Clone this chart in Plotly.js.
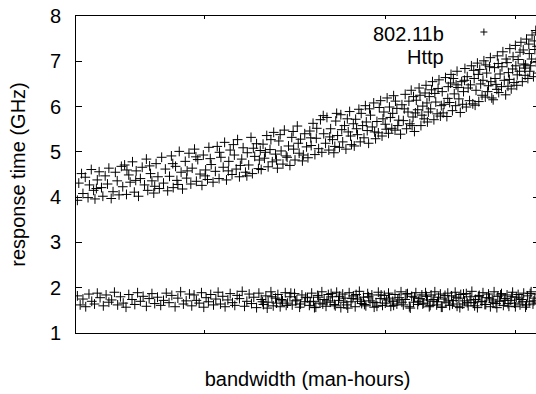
<!DOCTYPE html>
<html>
<head>
<meta charset="utf-8">
<script src="https://cdn.plot.ly/plotly-3.0.1.min.js"></script>
<style>html,body{margin:0;padding:0;overflow:hidden;background:#fff}</style>
</head>
<body>
<div id="chart" style="width:540px;height:394px"></div>
<script>
// Series names
var seriesNames = ["802.11b", "Http"];

// 802.11b (upper band) points, as [x, y]
var pts802 = [
[0.3,3.93],[0.6,4.31],[1.2,4.52],[1.5,4.08],[2.0,4.44],[2.6,3.99],[2.9,4.27],[3.3,4.61],[3.8,4.15],[4.1,3.96],[4.6,4.38],[5.0,4.56],[5.5,4.21],[5.8,4.02],[6.3,4.47],[6.8,4.29],[7.1,4.64],[7.6,3.97],[8.0,4.12],[8.5,4.55],[8.9,4.36],[9.3,4.05],[9.8,4.68],[4.4,4.19],
[10.1,4.23],[10.5,4.71],[10.9,4.06],[11.4,4.49],[11.7,4.33],[12.2,4.78],[12.6,4.11],[13.0,4.58],[13.5,4.02],[13.9,4.41],[14.3,4.66],[14.8,4.27],[15.2,4.84],[15.5,4.15],[16.1,4.52],[16.4,4.36],[16.8,4.09],[17.3,4.74],[17.7,4.45],[18.0,4.19],[18.5,4.88],[18.9,4.31],[19.3,4.62],[19.8,4.14],[12.9,4.37],[15.9,4.69],[17.0,4.24],[11.0,4.60],
[20.2,4.46],[20.6,4.91],[21.0,4.21],[21.5,4.68],[21.8,4.37],[22.3,5.01],[22.7,4.55],[23.0,4.18],[23.6,4.79],[23.9,4.42],[24.4,4.97],[24.8,4.29],[25.1,4.64],[25.6,5.06],[26.0,4.35],[26.3,4.83],[26.8,4.51],[27.2,4.26],[27.5,4.93],[28.0,4.60],[28.4,4.39],[28.7,5.10],[29.2,4.72],[29.6,4.33],[20.9,4.74],[22.0,4.28],[24.0,4.58],[25.9,4.89],[27.9,4.47],[29.0,4.85],
[30.1,4.57],[30.5,5.12],[30.9,4.41],[31.3,4.88],[31.8,4.66],[32.1,5.21],[32.5,4.38],[33.0,4.79],[33.3,5.04],[33.7,4.50],[34.2,4.93],[34.6,4.62],[34.9,5.27],[35.3,4.45],[35.8,4.84],[36.1,5.09],[36.6,4.55],[37.0,4.98],[37.3,4.71],[37.8,5.32],[38.1,4.52],[38.6,4.90],[39.0,5.18],[39.4,4.63],[39.8,5.03],[31.0,4.99],[32.9,4.58],[34.0,5.16],[35.5,4.70],[36.9,4.47],[38.3,5.08],[39.6,4.82],
[40.0,4.61],[40.4,5.17],[40.7,4.86],[41.2,5.36],[41.5,4.67],[41.9,5.05],[42.4,4.78],[42.7,5.43],[43.1,4.95],[43.5,4.64],[43.8,5.24],[44.3,5.02],[44.7,4.73],[45.0,5.48],[45.4,4.91],[45.9,5.13],[46.2,4.70],[46.6,5.32],[47.0,5.06],[47.3,4.82],[47.8,5.57],[48.2,4.97],[48.5,5.28],[48.9,4.80],[49.4,5.40],[49.8,5.11],[40.9,4.99],[42.1,5.27],[43.3,4.82],[44.1,5.38],[45.6,4.88],[46.9,5.45],[48.0,5.19],[49.1,4.93],
[50.1,4.87],[50.5,5.46],[50.8,5.14],[51.2,5.63],[51.6,4.94],[51.9,5.30],[52.4,5.07],[52.8,5.71],[53.1,4.99],[53.5,5.40],[53.9,5.19],[54.2,5.76],[54.6,5.04],[55.0,5.51],[55.4,5.27],[55.7,4.98],[56.1,5.68],[56.5,5.36],[56.9,5.10],[57.2,5.82],[57.6,5.22],[58.0,5.58],[58.3,5.06],[58.8,5.44],[59.1,5.89],[59.5,5.16],[59.9,5.62],[50.7,5.31],[52.0,5.52],[53.4,5.80],[54.8,5.33],[55.9,5.12],[57.4,5.49],[58.6,5.73],[59.3,5.35],[56.3,5.85],
[60.1,5.13],[60.4,5.72],[60.8,5.38],[61.1,5.94],[61.4,5.22],[61.9,5.58],[62.2,5.31],[62.5,6.02],[62.9,5.47],[63.2,5.19],[63.6,5.81],[64.0,5.55],[64.3,6.08],[64.7,5.29],[65.0,5.67],[65.3,5.42],[65.8,6.13],[66.1,5.35],[66.5,5.88],[66.8,5.61],[67.2,6.19],[67.5,5.41],[67.9,5.76],[68.2,5.52],[68.6,6.24],[68.9,5.48],[69.3,5.96],[69.7,5.70],[60.6,5.51],[61.6,5.85],[62.7,5.66],[63.4,5.95],[64.5,5.44],[65.5,5.98],[66.3,5.73],[67.0,5.50],[67.7,5.99],[68.4,5.85],[69.0,6.12],[69.5,5.58],
[70.1,5.39],[70.4,6.04],[70.7,5.69],[71.1,6.27],[71.4,5.51],[71.7,5.88],[72.1,5.62],[72.4,6.36],[72.8,5.77],[73.1,5.45],[73.5,6.14],[73.8,5.93],[74.1,6.41],[74.5,5.58],[74.9,6.01],[75.2,5.73],[75.6,6.47],[75.9,5.66],[76.3,6.22],[76.6,5.95],[77.0,6.55],[77.3,5.71],[77.7,6.10],[78.0,5.84],[78.4,6.59],[78.7,5.79],[79.1,6.33],[79.5,6.05],[79.8,6.64],[70.9,5.95],[71.9,6.12],[72.6,5.58],[73.3,5.86],[74.3,6.25],[74.7,5.81],[75.4,6.30],[76.1,5.88],[76.8,6.37],[77.5,6.29],[78.2,6.40],[78.9,6.02],[79.3,5.86],[72.9,6.22],[75.8,6.08],
[80.1,5.78],[80.4,6.44],[80.7,6.09],[81.0,6.71],[81.3,5.91],[81.7,6.28],[82.0,6.02],[82.3,6.78],[82.7,6.17],[83.0,5.87],[83.3,6.55],[83.7,6.33],[84.0,6.84],[84.3,5.99],[84.7,6.41],[85.0,6.13],[85.4,6.90],[85.7,6.06],[86.0,6.62],[86.4,6.36],[86.7,6.96],[87.0,6.11],[87.4,6.50],[87.7,6.25],[88.1,7.01],[88.4,6.21],[88.7,6.74],[89.1,6.46],[89.5,7.08],[89.8,6.19],[80.9,6.52],[81.5,6.62],[82.5,6.42],[83.5,6.05],[84.5,6.66],[85.2,6.48],[86.2,6.03],[86.9,6.71],[87.9,6.58],[88.9,6.33],[89.3,6.88],[80.3,6.18],[82.1,6.48],[83.9,6.58],[85.9,6.80],[87.2,6.82],[88.5,6.92],[89.6,6.55],
[90.1,6.15],[90.4,6.86],[90.7,6.49],[91.0,7.12],[91.3,6.31],[91.6,6.72],[91.9,6.44],[92.2,7.21],[92.5,6.58],[92.8,6.26],[93.1,6.97],[93.4,6.75],[93.7,7.28],[94.0,6.39],[94.3,6.83],[94.6,6.53],[94.9,7.35],[95.2,6.47],[95.5,7.04],[95.8,6.78],[96.1,7.42],[96.4,6.55],[96.7,6.94],[97.0,6.69],[97.3,7.49],[97.6,6.62],[97.9,7.17],[98.2,6.90],[98.5,7.58],[98.8,6.66],[99.1,7.26],[99.4,6.98],[99.7,7.63],[99.9,6.74],[90.5,6.62],[91.2,6.95],[92.0,6.88],[92.9,7.05],[93.6,6.60],[94.4,7.10],[95.0,6.90],[95.9,7.20],[96.6,7.25],[97.1,6.92],[97.8,7.38],[98.4,7.05],[99.0,7.45],[99.6,7.33],[90.9,6.38],[93.3,6.45],[95.3,6.70],[96.9,6.85],[98.0,6.78],[99.3,7.68]
];

// Http (lower band)
var xHttp = [
0.3,0.9,1.5,2.1,2.8,3.4,4.0,4.6,5.2,5.9,6.5,7.1,7.7,8.3,9.0,9.6,10.2,10.8,11.4,12.1,12.7,13.3,13.9,14.5,15.2,15.8,16.4,17.0,17.6,18.3,18.9,19.5,20.1,20.7,21.4,22.0,22.6,23.2,23.8,24.5,
25.0,25.5,26.0,26.6,27.1,27.6,28.1,28.6,29.1,29.7,30.2,30.7,31.2,31.7,32.2,32.8,33.3,33.8,34.3,34.8,35.3,35.9,36.4,36.9,37.4,37.9,38.4,39.0,39.5,40.0,40.5,41.0,41.5,42.1,42.6,43.1,43.6,44.1,44.6,45.2,45.7,46.2,46.7,47.2,47.7,48.3,48.8,49.4,
50.0,50.4,50.9,51.3,51.8,52.2,52.7,53.1,53.6,54.0,54.5,54.9,55.4,55.8,56.3,56.7,57.2,57.6,58.1,58.5,59.0,59.4,59.9,60.3,60.8,61.2,61.7,62.1,62.6,63.0,63.5,63.9,64.4,64.8,65.3,65.7,66.2,66.6,67.1,67.5,68.0,68.4,68.9,69.3,69.8,70.2,70.7,71.1,71.6,72.0,72.5,72.9,73.4,73.8,74.3,74.7,
75.1,75.5,75.9,76.3,76.7,77.1,77.5,77.9,78.3,78.7,79.1,79.5,79.9,80.3,80.7,81.1,81.5,81.9,82.3,82.7,83.1,83.5,83.9,84.3,84.7,85.1,85.5,85.9,86.3,86.7,87.1,87.5,87.9,88.3,88.7,89.1,89.5,89.9,90.3,90.7,91.1,91.5,91.9,92.3,92.7,93.1,93.5,93.9,94.3,94.7,95.1,95.5,95.9,96.3,96.7,97.1,97.5,97.9,98.3,98.7,99.1,99.6
];
var yHttp = [
1.82,1.62,1.75,1.58,1.86,1.70,1.64,1.88,1.78,1.60,1.84,1.68,1.73,1.90,1.62,1.80,1.66,1.57,1.85,1.74,1.63,1.89,1.70,1.81,1.59,1.76,1.87,1.65,1.79,1.61,1.72,1.88,1.67,1.83,1.58,1.77,1.91,1.64,1.71,1.86,
1.60,1.84,1.72,1.66,1.89,1.57,1.78,1.69,1.85,1.62,1.75,1.90,1.64,1.81,1.58,1.73,1.87,1.67,1.61,1.83,1.76,1.92,1.59,1.70,1.86,1.65,1.79,1.56,1.88,1.74,1.63,1.82,1.68,1.91,1.60,1.77,1.85,1.58,1.71,1.89,1.66,1.80,1.62,1.87,1.73,1.57,1.84,1.69,
1.78,1.61,1.88,1.70,1.57,1.83,1.66,1.91,1.74,1.59,1.85,1.68,1.80,1.63,1.90,1.72,1.56,1.86,1.77,1.62,1.89,1.69,1.82,1.58,1.75,1.92,1.65,1.79,1.60,1.87,1.71,1.84,1.57,1.67,1.90,1.76,1.61,1.83,1.73,1.88,1.59,1.70,1.85,1.64,1.78,1.91,1.62,1.74,1.87,1.58,1.81,1.68,1.89,1.63,1.76,1.84,
1.66,1.89,1.73,1.58,1.84,1.70,1.91,1.62,1.79,1.86,1.57,1.75,1.68,1.88,1.61,1.82,1.72,1.90,1.59,1.77,1.85,1.64,1.71,1.87,1.60,1.80,1.92,1.67,1.74,1.56,1.83,1.69,1.89,1.63,1.78,1.86,1.58,1.73,1.91,1.65,1.81,1.70,1.87,1.61,1.76,1.84,1.59,1.72,1.90,1.66,1.79,1.85,1.62,1.74,1.88,1.57,1.82,1.69,1.91,1.64,1.77,1.86
];
// extra Http points in the denser right part
var xHttp2 = [
40.3,41.3,42.3,43.3,44.4,45.4,46.4,47.4,48.5,49.6,50.6,51.5,52.4,53.3,54.2,55.1,56.0,56.9,57.8,58.7,59.6,60.5,61.4,62.3,63.2,64.1,65.0,65.9,66.8,67.7,68.6,69.5,70.4,71.3,72.2,73.1,74.0,74.9,75.7,76.5,77.3,78.1,78.9,79.7,80.5,81.3,82.1,82.9,83.7,84.5,85.3,86.1,86.9,87.7,88.5,89.3,90.1,90.9,91.7,92.5,93.3,94.1,94.9,95.7,96.5,97.3,98.1,98.9,99.8
];
var yHttp2 = [
1.69,1.55,1.80,1.66,1.74,1.61,1.88,1.71,1.64,1.79,1.69,1.56,1.79,1.64,1.71,1.87,1.60,1.81,1.68,1.55,1.76,1.85,1.70,1.63,1.80,1.68,1.59,1.84,1.66,1.77,1.61,1.73,1.68,1.86,1.55,1.79,1.70,1.64,1.81,1.61,1.74,1.69,1.57,1.83,1.71,1.64,1.79,1.56,1.86,1.67,1.73,1.60,1.81,1.70,1.63,1.77,1.68,1.56,1.84,1.72,1.65,1.80,1.58,1.75,1.69,1.62,1.87,1.71,1.66
];

// Axis ticks
var yTickVals = [1, 2, 3, 4, 5, 6, 7, 8];
var yTickText = ["1", "2", "3", "4", "5", "6", "7", "8"];
var xTickVals = [27.7, 66.95, 94.9];

var FONT = "Liberation Sans, Arial, Helvetica, sans-serif";
var markerStyle = {symbol: "cross-thin", size: 7, color: "#000", line: {color: "#000", width: 1}};

var traces = [
  {type: "scatter", mode: "markers", name: seriesNames[0],
   x: pts802.map(function (p) { return p[0]; }), y: pts802.map(function (p) { return p[1]; }),
   marker: markerStyle, showlegend: false},
  {type: "scatter", mode: "markers", name: seriesNames[1],
   x: xHttp.concat(xHttp2), y: yHttp.concat(yHttp2), marker: markerStyle, showlegend: false}
];

function plus(px, py) {
  var dx = 3.5 / 463, dy = 3.5 / 317;
  return [
    {type: "line", xref: "paper", yref: "paper", x0: px - dx, x1: px + dx, y0: py, y1: py, line: {color: "#000", width: 1}},
    {type: "line", xref: "paper", yref: "paper", x0: px, x1: px, y0: py - dy, y1: py + dy, line: {color: "#000", width: 1}}
  ];
}

var layout = {
  width: 540, height: 394,
  margin: {l: 76, r: 1, t: 16, b: 61, pad: 0},
  paper_bgcolor: "#fff", plot_bgcolor: "#fff",
  font: {family: FONT, size: 20, color: "#000"},
  showlegend: false,
  xaxis: {
    range: [0, 100], showgrid: false, zeroline: false, automargin: true,
    showline: true, linecolor: "#000", linewidth: 1, mirror: "ticks",
    ticks: "inside", ticklen: 3, tickcolor: "#000", tickwidth: 1,
    tickmode: "array", tickvals: xTickVals, showticklabels: false,
    title: {text: "bandwidth (man-hours)", font: {family: FONT, size: 20}, standoff: 38}
  },
  yaxis: {
    range: [1, 8], showgrid: false, zeroline: false, automargin: true,
    showline: true, linecolor: "#000", linewidth: 1, mirror: "ticks",
    ticks: "inside", ticklen: 6, tickcolor: "#000", tickwidth: 1,
    tickmode: "array", tickvals: yTickVals, ticktext: yTickText,
    tickfont: {family: FONT, size: 20}, ticklabelstandoff: 10,
    title: {text: "response time (GHz)", font: {family: FONT, size: 20}, standoff: 18}
  },
  annotations: [
    {xref: "paper", yref: "paper", x: 0.80, y: 0.942, xanchor: "right", yanchor: "middle", text: seriesNames[0], showarrow: false, font: {family: FONT, size: 20}},
    {xref: "paper", yref: "paper", x: 0.80, y: 0.872, xanchor: "right", yanchor: "middle", text: seriesNames[1], showarrow: false, font: {family: FONT, size: 20}}
  ],
  shapes: plus(0.881, 0.9495)
};

Plotly.newPlot("chart", traces, layout, {staticPlot: true, displayModeBar: false});
</script>
</body>
</html>
